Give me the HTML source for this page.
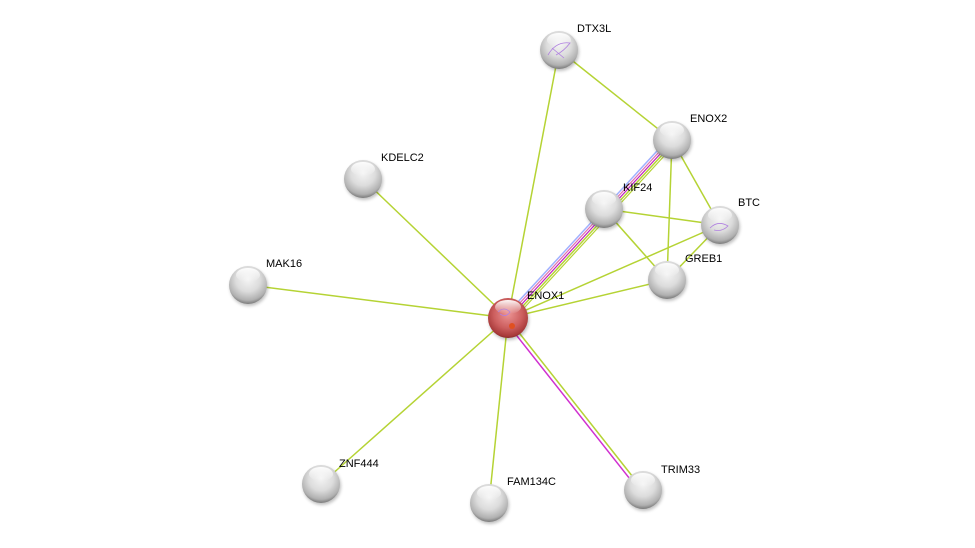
<!DOCTYPE html>
<html><head><meta charset="utf-8"><style>
html,body{margin:0;padding:0;background:#fff;}
svg{display:block;}
text{font-family:"Liberation Sans",sans-serif;font-size:11px;fill:#000;}
</style></head><body>
<svg width="975" height="548" viewBox="0 0 975 548" xmlns="http://www.w3.org/2000/svg">
<defs>
<radialGradient id="g" cx="50%" cy="35%" r="65%">
<stop offset="0" stop-color="#f4f4f4"/><stop offset="0.5" stop-color="#dcdcdc"/><stop offset="0.85" stop-color="#b0b0b0"/><stop offset="1" stop-color="#7a7a7a"/>
</radialGradient>
<radialGradient id="r" cx="50%" cy="40%" r="65%">
<stop offset="0" stop-color="#ec9494"/><stop offset="0.55" stop-color="#cc5e5e"/><stop offset="0.85" stop-color="#a83a3a"/><stop offset="1" stop-color="#6e1a1a"/>
</radialGradient>
<linearGradient id="hl" x1="0" y1="0" x2="0" y2="1"><stop offset="0" stop-color="#fff" stop-opacity="0.95"/><stop offset="1" stop-color="#fff" stop-opacity="0"/></linearGradient>
<filter id="sh" x="-30%" y="-30%" width="160%" height="160%"><feGaussianBlur stdDeviation="1.5"/></filter>
</defs>
<g stroke="#b5d334" stroke-width="1.5" fill="none">
<line x1="508" y1="318" x2="559" y2="50"/>
<line x1="508" y1="318" x2="363" y2="179"/>
<line x1="508" y1="318" x2="248" y2="285"/>
<line x1="508" y1="318" x2="321" y2="484"/>
<line x1="508" y1="318" x2="489" y2="503"/>
<line x1="508" y1="318" x2="720" y2="225"/>
<line x1="508" y1="318" x2="667" y2="280"/>
<line x1="559" y1="50" x2="672" y2="140"/>
<line x1="672" y1="140" x2="720" y2="225"/>
<line x1="672" y1="140" x2="667" y2="280"/>
<line x1="604" y1="209" x2="720" y2="225"/>
<line x1="604" y1="209" x2="667" y2="280"/>
<line x1="720" y1="225" x2="667" y2="280"/>
</g>
<line x1="509" y1="320" x2="644" y2="491" stroke="#b5d334" stroke-width="1.5"/>
<line x1="506" y1="322" x2="641" y2="493" stroke="#d030d0" stroke-width="1.5"/>
<line x1="505" y1="316" x2="669" y2="138" stroke="#a0b0ff" stroke-width="1.5"/>
<line x1="507" y1="317" x2="671" y2="139" stroke="#e070b0" stroke-width="1.2"/>
<line x1="509" y1="318" x2="673" y2="140" stroke="#c020c0" stroke-width="1.2"/>
<line x1="511" y1="319" x2="675" y2="141" stroke="#b5d334" stroke-width="1.5"/>
<line x1="513" y1="320" x2="677" y2="142" stroke="#b5d334" stroke-width="1.2"/>
<g fill="#000" opacity="0.25" filter="url(#sh)">
<circle cx="560" cy="52" r="19"/><circle cx="673" cy="142" r="19"/><circle cx="364" cy="181" r="19"/>
<circle cx="605" cy="211" r="19"/><circle cx="721" cy="227" r="19"/><circle cx="668" cy="282" r="19"/>
<circle cx="249" cy="287" r="19"/><circle cx="322" cy="486" r="19"/><circle cx="490" cy="505" r="19"/>
<circle cx="644" cy="492" r="19"/><circle cx="509" cy="320" r="20"/>
</g>
<g>
<circle cx="559" cy="50" r="19" fill="url(#g)"/>
<circle cx="672" cy="140" r="19" fill="url(#g)"/>
<circle cx="363" cy="179" r="19" fill="url(#g)"/>
<circle cx="604" cy="209" r="19" fill="url(#g)"/>
<circle cx="720" cy="225" r="19" fill="url(#g)"/>
<circle cx="667" cy="280" r="19" fill="url(#g)"/>
<circle cx="248" cy="285" r="19" fill="url(#g)"/>
<circle cx="321" cy="484" r="19" fill="url(#g)"/>
<circle cx="489" cy="503" r="19" fill="url(#g)"/>
<circle cx="643" cy="490" r="19" fill="url(#g)"/>
<circle cx="508" cy="318" r="20" fill="url(#r)"/>
</g>
<g fill="url(#hl)">
<ellipse cx="559" cy="40" rx="12" ry="7"/><ellipse cx="672" cy="130" rx="12" ry="7"/>
<ellipse cx="363" cy="169" rx="12" ry="7"/><ellipse cx="604" cy="199" rx="12" ry="7"/>
<ellipse cx="720" cy="215" rx="12" ry="7"/><ellipse cx="667" cy="270" rx="12" ry="7"/>
<ellipse cx="248" cy="275" rx="12" ry="7"/><ellipse cx="321" cy="474" rx="12" ry="7"/>
<ellipse cx="489" cy="493" rx="12" ry="7"/><ellipse cx="643" cy="480" rx="12" ry="7"/>
<ellipse cx="508" cy="307" rx="13" ry="7"/>
</g>
<g stroke="#b080e0" stroke-width="0.8" fill="none">
<path d="M548 55 q8 -14 22 -12 q-6 8 -14 12 M552 48 l12 10"/>
<path d="M710 228 q8 -8 18 -2 q-6 6 -14 4"/>
<path d="M498 312 q6 -6 12 0 q-4 6 -10 2"/>
</g>
<circle cx="512" cy="326" r="3" fill="#e05020"/>
<text x="577" y="32">DTX3L</text>
<text x="690" y="122">ENOX2</text>
<text x="381" y="161">KDELC2</text>
<text x="623" y="191">KIF24</text>
<text x="738" y="206">BTC</text>
<text x="685" y="262">GREB1</text>
<text x="266" y="267">MAK16</text>
<text x="527" y="299">ENOX1</text>
<text x="339" y="467">ZNF444</text>
<text x="507" y="485">FAM134C</text>
<text x="661" y="473">TRIM33</text>
</svg>
</body></html>
